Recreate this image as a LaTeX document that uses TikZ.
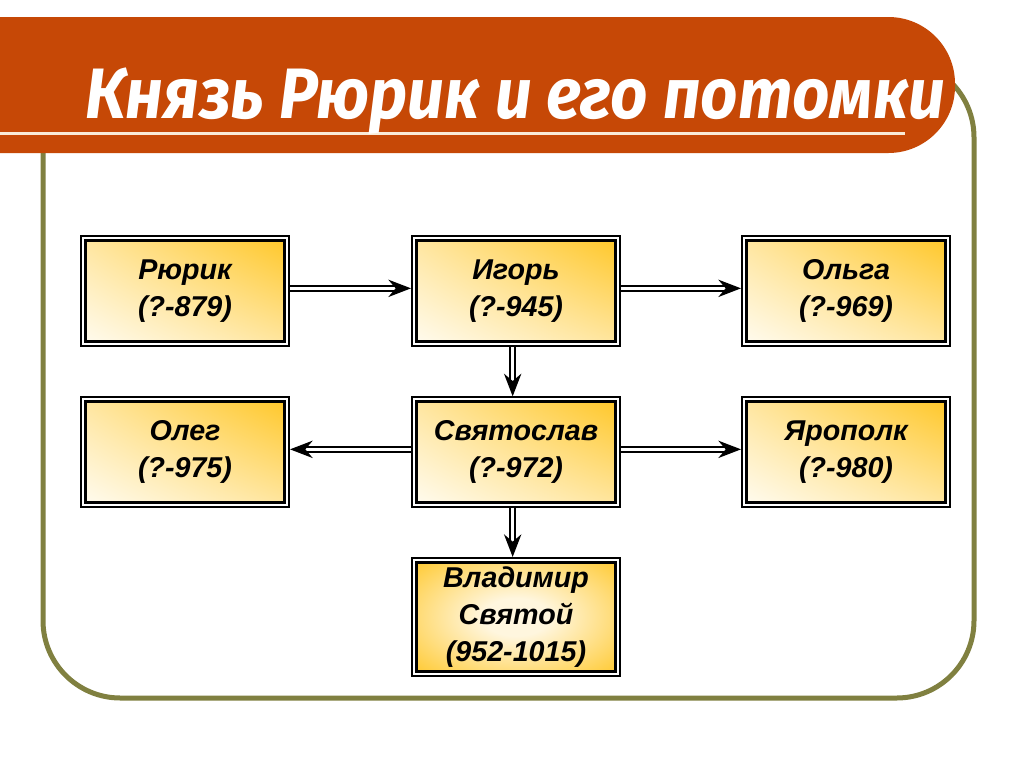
\documentclass[tikz,border=0pt]{standalone}
\usepackage{fontspec}
\setmainfont{Liberation Sans}
\newfontfamily\titlefont{Fira Sans}
\usetikzlibrary{arrows.meta,shadings}
\definecolor{banner}{RGB}{198,72,6}
\definecolor{frameol}{RGB}{128,128,64}
\definecolor{goldc}{RGB}{255,198,36}
\definecolor{paleA}{RGB}{255,230,160}
\definecolor{paleB}{RGB}{255,252,242}
\definecolor{creamc}{RGB}{255,246,222}
\definecolor{lineW}{RGB}{250,235,215}
\pgfdeclareradialshading{vlshade}{\pgfpoint{0bp}{0bp}}{color(0bp)=(creamc); color(8bp)=(creamc); color(36bp)=(goldc); color(50bp)=(goldc)}
\begin{document}
\begin{tikzpicture}[x=0.75pt,y=-0.75pt,
  fam/.style={fill=white, draw=black, line width=1.5pt, inner sep=0pt, align=center,
     font=\fontsize{21.5}{28}\selectfont\bfseries\itshape, text width=145pt,
     minimum width=156pt},
  innerline/.style={line width=2.25pt},
  famA/.style={fam, path picture={
     \shade[shading=bilinear interpolation, upper right=goldc, lower left=paleB, upper left=paleA, lower right=paleA]
       ([xshift=3.3pt,yshift=-3.3pt]path picture bounding box.north west) rectangle
       ([xshift=-3.3pt,yshift=3.3pt]path picture bounding box.south east);
     \draw[innerline]
       ([xshift=3.4pt,yshift=-3.4pt]path picture bounding box.north west) rectangle
       ([xshift=-3.4pt,yshift=3.4pt]path picture bounding box.south east);}},
  famB/.style={fam, path picture={
     \shade[shading=vlshade]
       ([xshift=3.3pt,yshift=-3.3pt]path picture bounding box.north west) rectangle
       ([xshift=-3.3pt,yshift=3.3pt]path picture bounding box.south east);
     \draw[innerline]
       ([xshift=3.4pt,yshift=-3.4pt]path picture bounding box.north west) rectangle
       ([xshift=-3.4pt,yshift=3.4pt]path picture bounding box.south east);}},
  arr/.style={draw=black, line width=1.4pt, double=white, double distance=2.4pt,
     -{Stealth[length=17pt,width=13pt]}}
]
\useasboundingbox (0,0) rectangle (1024,768);
\fill[white] (0,0) rectangle (1024,768);
% frame
\draw[frameol, line width=3.75pt, rounded corners=58pt] (43,60) rectangle (974,698);
% banner
\fill[banner, rounded corners=50pt] (-200,17) rectangle (955,153);
\draw[lineW, line width=2.25pt] (0,133) -- (905,133);
\node[anchor=base west, inner sep=0pt, text=white] (title) at (85,118)
  {\resizebox{645pt}{38pt}{\titlefont\bfseries\itshape Князь Рюрик и его потомки}};
% boxes
\node[famA, minimum height=82.5pt] (r)  at (185,291) {Рюрик\\(?-879)};
\node[famA, minimum height=82.5pt] (ig) at (516,291) {Игорь\\(?-945)};
\node[famA, minimum height=82.5pt] (ol) at (846,291) {Ольга\\(?-969)};
\node[famA, minimum height=82pt] (og) at (185,452) {Олег\\(?-975)};
\node[famA, minimum height=82pt] (sv) at (516,452) {Святослав\\(?-972)};
\node[famA, minimum height=82pt] (yp) at (846,452) {Ярополк\\(?-980)};
\node[famB, minimum height=88.5pt] (vl) at (516,617) {Владимир\\Святой\\(952-1015)};
% arrows
\draw[arr] ([yshift=2pt]r.east) -- ([yshift=2pt]ig.west);
\draw[arr] ([yshift=2pt]ig.east) -- ([yshift=2pt]ol.west);
\draw[arr] ([xshift=-2.5pt]ig.south) -- ([xshift=-2.5pt]sv.north);
\draw[arr] ([yshift=2pt]sv.west) -- ([yshift=2pt]og.east);
\draw[arr] ([yshift=2pt]sv.east) -- ([yshift=2pt]yp.west);
\draw[arr] ([xshift=-2.5pt]sv.south) -- ([xshift=-2.5pt]vl.north);
\end{tikzpicture}
\end{document}
